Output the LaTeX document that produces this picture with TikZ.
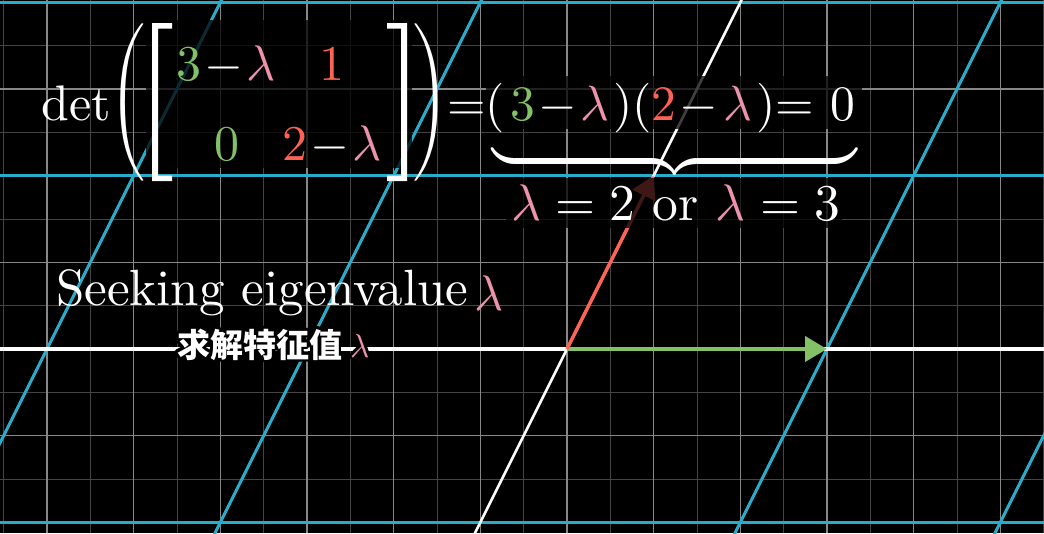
\documentclass[tikz,border=0pt]{standalone}
\usepackage{amsmath}
\usepackage{graphicx}
\usepackage{fontspec}
\newfontfamily\cjk{Noto Sans CJK SC}
\usetikzlibrary{arrows.meta}
\definecolor{gridmaj}{RGB}{135,135,135}
\definecolor{gridmin}{RGB}{68,68,68}
\definecolor{tblue}{RGB}{41,171,202}
\definecolor{vgreen}{HTML}{83C167}
\definecolor{vred}{HTML}{FC6255}
\definecolor{lampink}{HTML}{EC92AB}
\newcommand{\lam}{{\color{lampink}\lambda}}
\newcommand{\gr}[1]{{\color{vgreen}#1}}
\newcommand{\rd}[1]{{\color{vred}#1}}
\newcommand{\M}[2]{\scalebox{#1}{$#2$}}
\newcommand{\ldelim}[1]{\scalebox{4.2}[4.36]{$\delimiterfactor=1000 \delimitershortfall=0pt \nulldelimiterspace=0pt \left#1\vcenter{\hbox{\vrule height 31.8pt width 0pt}}\right.$}}
\newcommand{\rdelim}[1]{\scalebox{4.2}[4.36]{$\delimiterfactor=1000 \delimitershortfall=0pt \nulldelimiterspace=0pt \left.\vcenter{\hbox{\vrule height 31.8pt width 0pt}}\right#1$}}
\newcommand{\subline}[2]{{\color{#1}\fontsize{33}{36}\selectfont\cjk\bfseries 求解特征值}\hspace{8pt}{\color{#2}\scalebox{3.3}{$\lambda$}}}
\tikzset{
  minorline/.style={gridmin, line width=1pt},
  majorline/.style={gridmaj, line width=1.3pt},
  tline/.style={tblue, line width=3pt},
  axisline/.style={white, line width=4pt},
  yaxisline/.style={white, line width=2.5pt},
  vecgreen/.style={vgreen, line width=4pt, -{Triangle[length=22pt,width=25pt]}},
  vecred/.style={vred, line width=3.5pt, -{Triangle[length=22pt,width=25pt]}},
  backing/.style={fill=black, fill opacity=0.75},
  txt/.style={text=white, inner sep=0pt, font=\normalsize},
  delim/.style={text=white, inner sep=0pt, anchor=center, font=\normalsize},
  bracket/.style={fill=white},
}
\begin{document}
\begin{tikzpicture}[x=1pt, y=-1pt]
\fill[black] (0,0) rectangle (1044,533);
\useasboundingbox (0,0) rectangle (1044,533);
\begin{scope}
\clip (0,0) rectangle (1044,533);
% background grid
\foreach \i in {-13,-11,...,11} \draw[minorline] ({567+43.3333*\i},0) -- ({567+43.3333*\i},533);
\foreach \j in {-9,-7,...,5} \draw[minorline] (0,{349+43.3333*\j}) -- (1044,{349+43.3333*\j});
\foreach \i in {-6,...,5} \draw[majorline] ({567+86.6667*\i},0) -- ({567+86.6667*\i},533);
\foreach \j in {-4,...,2} \draw[majorline] (0,{349+86.6667*\j}) -- (1044,{349+86.6667*\j});
% transformed grid
\foreach \j in {-2,-1,1} \draw[tline] (0,{349+173.3333*\j}) -- (1044,{349+173.3333*\j});
\foreach \k in {-2,-1,1,2} \draw[tline] ({567+260*\k-105.5},560) -- ({567+260*\k+184.5},-20);
% axes
\draw[axisline] (0,349) -- (1044,349);
\draw[yaxisline] ({567-105.5},560) -- ({567+184.5},-20);
\end{scope}
% vectors
\coordinate (O) at (567,349);
\coordinate (ihat) at (827,349);
\coordinate (jhat) at (653.67,175.67);
\draw[vecgreen] (O) -- (ihat);
\draw[vecred] (O) -- (jhat);
% backings
\fill[backing] (146,20) rectangle (412,168);
\fill[backing] (486,76) rectangle (862,129);
\fill[backing] (506,178) rectangle (842,228);
% determinant equation
\node[txt, anchor=base west] (det) at (41.5,120) {\M{5}{\det}};
\node[delim] (lp) at (127,102.5) {\ldelim{(}};
\node[delim] (rp) at (431.5,102.5) {\rdelim{)}};
\fill[bracket] (152,23) -- (172,23) -- (172,28.5) -- (158,28.5) -- (158,175.5) -- (172,175.5) -- (172,181) -- (152,181) -- cycle;
\fill[bracket] (407,23) -- (387,23) -- (387,28.5) -- (401,28.5) -- (401,175.5) -- (387,175.5) -- (387,181) -- (407,181) -- cycle;
\node[txt, anchor=base] (a11) at (226,80) {\M{5}{\gr{3}\mkern1mu{-}\mkern1mu\lam}};
\node[txt, anchor=base] (a12) at (332,80) {\M{5}{\rd{1}}};
\node[txt, anchor=base] (a21) at (227,160) {\M{5}{\gr{0}}};
\node[txt, anchor=base] (a22) at (332,160) {\M{5}{\rd{2}\mkern1mu{-}\mkern1mu\lam}};
\node[txt, anchor=base west] (eq) at (447,120) {\M{4.95}{{=}(\mkern2mu\gr{3}\mkern1.2mu{-}\mkern1.2mu\lam\mkern1.5mu)(\rd{2}\mkern1.2mu{-}\mkern2mu\lam\mkern1.2mu){=}\mkern6mu 0}};
\node[txt, anchor=north] (brace) at (674.5,143) {\M{5}{\underbrace{\hspace{73pt}}}};
\node[txt, anchor=base west] (sol) at (511,220) {\M{5.15}{\lam = 2\text{ or }\lam = 3}};
% caption
\node[txt, anchor=base west] (seek) at (56,305) {\scalebox{5.1}{Seeking eigenvalue}};
\node[txt, anchor=base west] (seeklam) at (474,310) {\M{5}{\lam}};
\foreach \a in {0,30,...,330}
  \node[inner sep=0pt, anchor=base west] at ([shift={(\a:2.6)}]177,357) {\subline{black}{black}};
\node[inner sep=0pt, anchor=base west] (sub) at (177,357) {\subline{white}{lampink}};
\end{tikzpicture}
\end{document}
